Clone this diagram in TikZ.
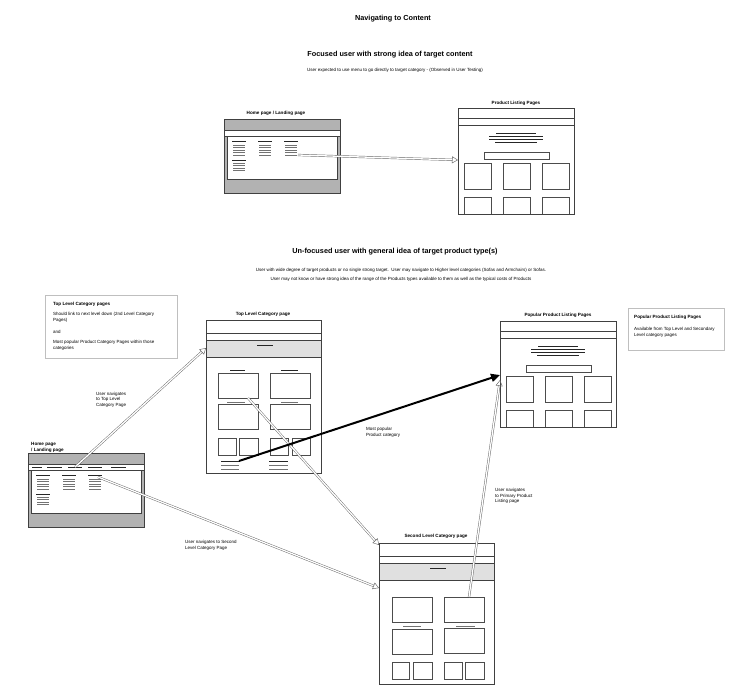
\documentclass[tikz,border=0pt]{standalone}
\usepackage{fontspec}
\setmainfont{Liberation Sans}
\usetikzlibrary{arrows.meta,calc}
\tikzset{
 frame/.style={draw=black!75, line width=0.6pt},
 boxln/.style={draw=black!70, line width=0.5pt},
 txtln/.style={draw=black!85, line width=0.9pt},
 greyln/.style={draw=black!55, line width=0.7pt},
 navline/.style={draw=black!60, line width=0.45pt, double=white, double distance=1.3pt, shorten >=5.5pt},
 navhead/.style={draw=black!60, line width=0.45pt, -{Triangle[open, length=6pt, width=7pt]}},
 popline/.style={draw=black, line width=2pt, -{Triangle[length=9pt, width=8pt]}},
 pagelbl/.style={font=\bfseries\fontsize{4.6}{5.2}\selectfont, inner sep=0, align=left},
 notetxt/.style={font=\fontsize{4.5}{6}\selectfont, align=left, inner sep=0, anchor=north west},
 notebox/.style={draw=black!25, line width=0.6pt},
 heading/.style={font=\bfseries\fontsize{7.3}{9}\selectfont, inner sep=0},
 subtxt/.style={font=\fontsize{4.5}{6}\selectfont, inner sep=0},
}
\newcommand\wfHome[1]{%
  \node[frame, fill=black!30, minimum width=116pt, minimum height=74pt, anchor=north west, inner sep=0] (#1) at (0,0) {};
  \draw[frame, fill=white] (0,11) rectangle (116,17);
  \draw[frame, fill=white] (3,17) rectangle (113,60);
  \foreach \x in {8,34,60} {
    \draw[txtln] (\x,22) -- ++(14,0);
    \foreach \y in {26,28.5,31,33.5,36} \draw[greyln] (\x+1,\y) -- ++(12,0);
  }
  \draw[txtln] (8,41) -- ++(14,0);
  \foreach \y in {44,46.5,49,51.5} \draw[greyln] (9,\y) -- ++(12,0);
}
\newcommand\wfList[1]{%
  \node[frame, fill=white, minimum width=116pt, minimum height=106pt, anchor=north west, inner sep=0] (#1) at (0,0) {};
  \draw[frame] (0,10) -- (116,10) (0,17) -- (116,17);
  \draw[txtln] (38,25) -- (78,25) (31,28) -- (85,28) (31,31) -- (85,31) (37,34) -- (79,34);
  \draw[boxln] (26,44) rectangle (91,51);
  \foreach \x in {6,45,84} {
    \draw[boxln] (\x,55) rectangle ++(27,26);
    \draw[boxln] (\x,106) -- (\x,89) -- ++(27,0) -- ++(0,17);
  }
}
\newcommand\wfCatTop[2]{% #1 name, #2 height
  \node[frame, fill=white, minimum width=115pt, minimum height=#2pt, anchor=north west, inner sep=0] (#1) at (0,0) {};
  \draw[frame] (0,13) -- (115,13);
  \draw[frame, fill=black!12] (0,20) rectangle (115,37);
  \draw[txtln] (51,25.5) -- (67,25.5);
}
\begin{document}
\begin{tikzpicture}[x=1pt,y=-1pt]
\useasboundingbox (0,0) rectangle (749,697);

% ---------- headings ----------
\node[heading] (title) at (393,19) {Navigating to Content};
\node[heading] (foc) at (390,55) {Focused user with strong idea of target content};
\node[subtxt] (focsub) at (395,70) {User expected to use menu to go directly to target category - (Observed in User Testing)};
\node[heading] (unfoc) at (395,252) {Un-focused user with general idea of target product type(s)};
\node[subtxt] (unfoc1) at (401,270) {User with wide degree of target products or no single strong target.\ \ User may navigate to Higher level categories (Sofas and Armchairs) or Sofas.};
\node[subtxt] (unfoc2) at (401,279) {User may not know or have strong idea of the range of the Products types available to them as well as the typical costs of Products};

% ---------- top home page ----------
\node[pagelbl] (thlbl) at (276,113) {Home page / Landing page};
\begin{scope}[shift={(224,119)}]
  \wfHome{tophome}
  \coordinate (thStart) at (74,36);
\end{scope}

% ---------- top product listing ----------
\node[pagelbl] (pllbl) at (516,103) {Product Listing Pages};
\begin{scope}[shift={(458,108)}]
  \wfList{plist}
  \coordinate (plEnd) at (0,52);
\end{scope}

% ---------- left note ----------
\draw[notebox] (45,295) rectangle (177,358);
\node[pagelbl, anchor=west] (n1h) at (53,304) {Top Level Category pages};
\node[notetxt] (n1a) at (53,312.2) {Should link to next level down (2nd Level Category\\Pages)};
\node[notetxt, anchor=west] (n1b) at (53,332) {and};
\node[notetxt] (n1c) at (53,340.2) {Most popular Product Category Pages within those\\categories};

% ---------- right note ----------
\draw[notebox] (628,308) rectangle (724,350);
\node[pagelbl, anchor=west] (n2h) at (634,317) {Popular Product Listing Pages};
\node[notetxt] (n2a) at (634,327.2) {Available from Top Level and Secondary\\Level category pages};

% ---------- bottom home page ----------
\node[pagelbl, anchor=north west] (bhlbl) at (31,442.5) {Home page\\/ Landing page};
\begin{scope}[shift={(28,453)}]
  \wfHome{bothome}
  \foreach \a/\b in {4/14,19/34,40/54,60/74,83/98} \draw[txtln] (\a,14) -- (\b,14);
  \coordinate (bhNav) at (47,14);
  \coordinate (bhCol) at (70,24);
\end{scope}

% ---------- top level category page ----------
\node[pagelbl] (tllbl) at (263,314) {Top Level Category page};
\begin{scope}[shift={(206,320)}]
  \wfCatTop{tlc}{153}
  \draw[txtln] (24,50) -- (39,50) (75,50) -- (92,50);
  \draw[boxln] (12,53) rectangle (52,78) (64,53) rectangle (104,78);
  \draw[greyln] (21,82) -- (39,82) (75,82) -- (92,82);
  \draw[boxln] (12,84) rectangle (52,109) (64,84) rectangle (104,109);
  \draw[boxln] (12,118) rectangle (30,135) (33,118) rectangle (52,135) (64,118) rectangle (82,135) (86,118) rectangle (104,135);
  \draw[txtln] (15,141) -- (33,141) (63,141) -- (82,141);
  \draw[greyln] (15,145.5) -- (33,145.5) (15,149) -- (33,149) (63,145.5) -- (82,145.5) (63,149) -- (82,149);
  \coordinate (tlIn) at (0,28);
  \coordinate (tlR1) at (42,78);
  \coordinate (tlPop) at (33,141);
\end{scope}

% ---------- popular product listing ----------
\node[pagelbl] (pplbl) at (558,315) {Popular Product Listing Pages};
\begin{scope}[shift={(500,321)}]
  \wfList{poplist}
  \coordinate (ppIn) at (0,54);
  \coordinate (ppIn2) at (0,59);
\end{scope}

% ---------- second level category page ----------
\node[pagelbl] (sllbl) at (436,536) {Second Level Category page};
\begin{scope}[shift={(379,543)}]
  \wfCatTop{slc}{141}
  \draw[boxln] (13,54) rectangle (53,79) (65,54) rectangle (105,79);
  \draw[greyln] (24,83) -- (42,83) (77,83) -- (96,83);
  \draw[boxln] (13,86) rectangle (53,111) (65,85) rectangle (105,110);
  \draw[boxln] (13,119) rectangle (30,136) (34,119) rectangle (53,136) (65,119) rectangle (83,136) (86,119) rectangle (105,136);
  \coordinate (slTop) at (0,2);
  \coordinate (slIn) at (0,45);
  \coordinate (slR2) at (90,54);
\end{scope}

% ---------- connectors ----------
\newcommand\navarrow[2]{%
  \draw[navline] (#1) -- (#2);
  \draw[navhead] ($(#2)!6pt!(#1)$) -- (#2);
}
\navarrow{thStart}{plEnd}
\navarrow{bhNav}{tlIn}
\navarrow{bhCol}{slIn}
\navarrow{tlR1}{slTop}
\navarrow{slR2}{ppIn2}
\draw[popline] (tlPop) -- (ppIn);

% ---------- connector labels ----------
\node[notetxt, font=\fontsize{4.5}{5.2}\selectfont] (l1) at (96,392.2) {User navigates\\to Top Level\\Category Page};
\node[notetxt] (l2) at (366,427.2) {Most popular\\Product category};
\node[notetxt, font=\fontsize{4.5}{5.5}\selectfont] (l3) at (495,488.2) {User navigates\\to Primary Product\\Listing page};
\node[notetxt] (l4) at (185,540.2) {User navigates to Second\\Level Category Page};
\end{tikzpicture}
\end{document}
